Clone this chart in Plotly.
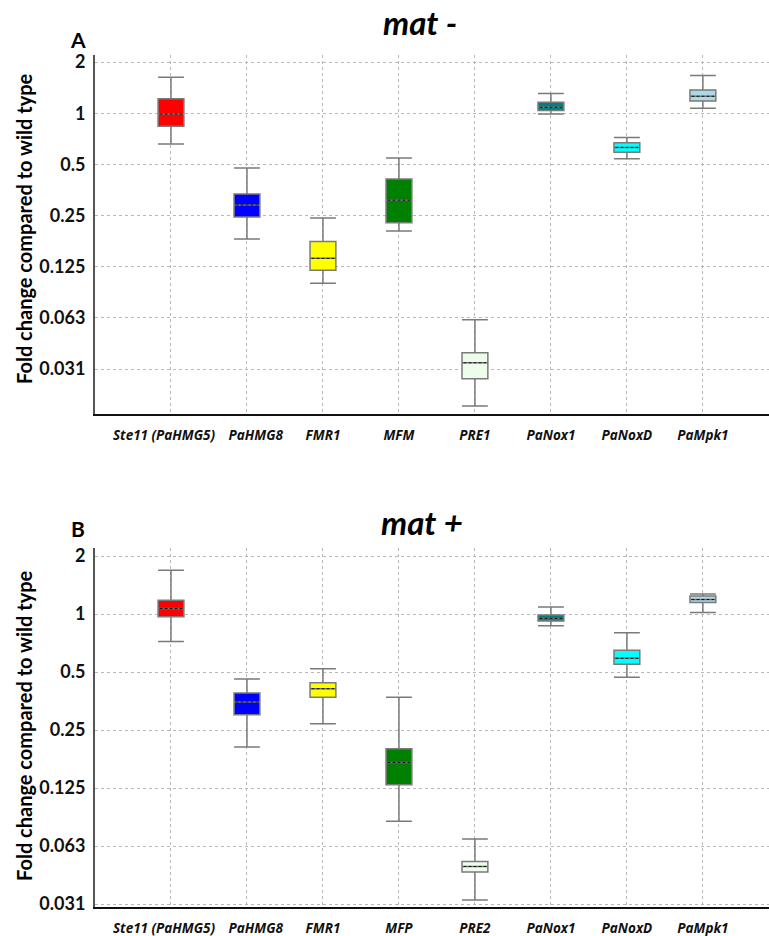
import math
import plotly.graph_objects as go

# ---------------- data ----------------
genes_a = ["Ste11 (PaHMG5)", "PaHMG8", "FMR1", "MFM", "PRE1", "PaNox1", "PaNoxD", "PaMpk1"]
genes_b = ["Ste11 (PaHMG5)", "PaHMG8", "FMR1", "MFP", "PRE2", "PaNox1", "PaNoxD", "PaMpk1"]
colors = ["#ff0000", "#0000ff", "#ffff00", "#008000", "#eefcec", "#008080", "#00ffff", "#add8e6"]

# panel A (mat -)
a_low = [0.66, 0.182, 0.100, 0.203, 0.0189, 0.99, 0.54, 1.07]
a_q1 = [0.84, 0.245, 0.119, 0.227, 0.0274, 1.04, 0.59, 1.18]
a_med = [0.99, 0.289, 0.140, 0.308, 0.0340, 1.085, 0.63, 1.26]
a_q3 = [1.22, 0.335, 0.176, 0.410, 0.0390, 1.16, 0.67, 1.37]
a_high = [1.63, 0.476, 0.242, 0.545, 0.0610, 1.31, 0.72, 1.67]

# panel B (mat +)
b_low = [0.72, 0.204, 0.27, 0.084, 0.0328, 0.87, 0.47, 1.02]
b_q1 = [0.97, 0.30, 0.37, 0.13, 0.0458, 0.92, 0.55, 1.15]
b_med = [1.07, 0.35, 0.41, 0.17, 0.049, 0.95, 0.59, 1.19]
b_q3 = [1.18, 0.39, 0.44, 0.20, 0.052, 0.99, 0.65, 1.24]
b_high = [1.69, 0.46, 0.52, 0.37, 0.068, 1.09, 0.80, 1.27]

y_tickvals = [2, 1, 0.5, 0.25, 0.125, 0.0625, 0.03125]
y_ticktext = ["2", "1", "0.5", "0.25", "0.125", "0.063", "0.031"]

positions = list(range(1, 9))
BOX_W = 0.34
FONT = "Lato, 'Open Sans', sans-serif"
XFONT = "'Open Sans', Lato, sans-serif"
NB = "\u00a0"

fig = go.Figure()


def add_panel(genes, low, q1, med, q3, high, xa, ya):
    for i, g in enumerate(genes):
        p = positions[i]
        fig.add_trace(go.Box(
            x=[p], q1=[q1[i]], median=[med[i]], q3=[q3[i]],
            lowerfence=[low[i]], upperfence=[high[i]],
            width=BOX_W, whiskerwidth=1,
            fillcolor=colors[i], line=dict(color="#7a7a7a", width=1.5),
            xaxis=xa, yaxis=ya, showlegend=False, name=g, boxpoints=False,
        ))
        fig.add_trace(go.Scatter(
            x=[p - BOX_W / 2 + 0.02, p + BOX_W / 2 - 0.02], y=[med[i], med[i]],
            mode="lines", line=dict(color="#111111", width=1, dash="3px,2px"),
            xaxis=xa, yaxis=ya, showlegend=False, hoverinfo="skip",
        ))


add_panel(genes_a, a_low, a_q1, a_med, a_q3, a_high, "x", "y")
add_panel(genes_b, b_low, b_q1, b_med, b_q3, b_high, "x2", "y2")

H = 936
W = 769
L = 95


def label(g, i):
    if i == 0:
        return f"<b><i>{g}</i></b>" + NB * 4
    if i == 1:
        return NB * 5 + f"<b><i>{g}</i></b>"
    return f"<b><i>{g}</i></b>"


def xaxis_cfg(genes, anchor):
    return dict(
        range=[0, 8.87], tickmode="array", tickvals=positions,
        ticktext=[label(g, i) for i, g in enumerate(genes)],
        tickfont=dict(family=XFONT, size=13.5, color="#111"), tickangle=0,
        showgrid=True, gridcolor="#b8b8b8", griddash="dot", gridwidth=1,
        showline=True, linecolor="#111", linewidth=2, ticks="",
        zeroline=False, anchor=anchor, domain=[0, 1], ticklabelstandoff=8,
        automargin=False,
    )


def yaxis_cfg(rng, dom, anchor):
    return dict(
        type="log", range=rng, tickmode="array", tickvals=y_tickvals,
        ticktext=[f"<b>{t}</b>" for t in y_ticktext],
        tickfont=dict(family=FONT, size=18, color="#111"),
        showgrid=True, gridcolor="#b8b8b8", griddash="dot", gridwidth=1,
        showline=True, linecolor="#555", linewidth=2, ticks="",
        zeroline=False, anchor=anchor, domain=dom, ticklabelstandoff=4,
        automargin=False,
    )


l2 = math.log10(2)

fig.update_layout(
    width=W, height=H,
    margin=dict(l=L, r=0, t=0, b=0),
    paper_bgcolor="white", plot_bgcolor="white",
    xaxis=xaxis_cfg(genes_a, "y"),
    yaxis=yaxis_cfg([-5.88 * l2, 1.14 * l2], [1 - 414 / H, 1 - 55 / H], "x"),
    xaxis2=xaxis_cfg(genes_b, "y2"),
    yaxis2=yaxis_cfg([-5.05 * l2, 1.14 * l2], [1 - 907 / H, 1 - 548 / H], "x2"),
)

pw = W - L


def px_x(x):
    return (x - L) / pw


def px_y(y):
    return 1 - y / H


annos = [
    dict(text="<b><i>mat -</i></b>", x=px_x(420), y=px_y(22), size=33),
    dict(text="<b><i>mat +</i></b>", x=px_x(422), y=px_y(522), size=33),
    dict(text="<b>A</b>", x=px_x(78), y=px_y(40), size=21),
    dict(text="<b>B</b>", x=px_x(78), y=px_y(528), size=21),
]
for a in annos:
    fig.add_annotation(text=a["text"], x=a["x"], y=a["y"], xref="paper", yref="paper",
                       showarrow=False, xanchor="center", yanchor="middle",
                       font=dict(family=FONT, size=a["size"], color="#000"))

for yc in [229, 726]:
    fig.add_annotation(text="<b>Fold change compared to wild type</b>", x=px_x(24), y=px_y(yc),
                       xref="paper", yref="paper", showarrow=False, textangle=-90,
                       xanchor="center", yanchor="middle",
                       font=dict(family=FONT, size=20, color="#000"))

fig.write_html("out.html", config={"displayModeBar": False},
               post_script="document.body.style.margin='0';document.body.style.overflow='hidden';")
